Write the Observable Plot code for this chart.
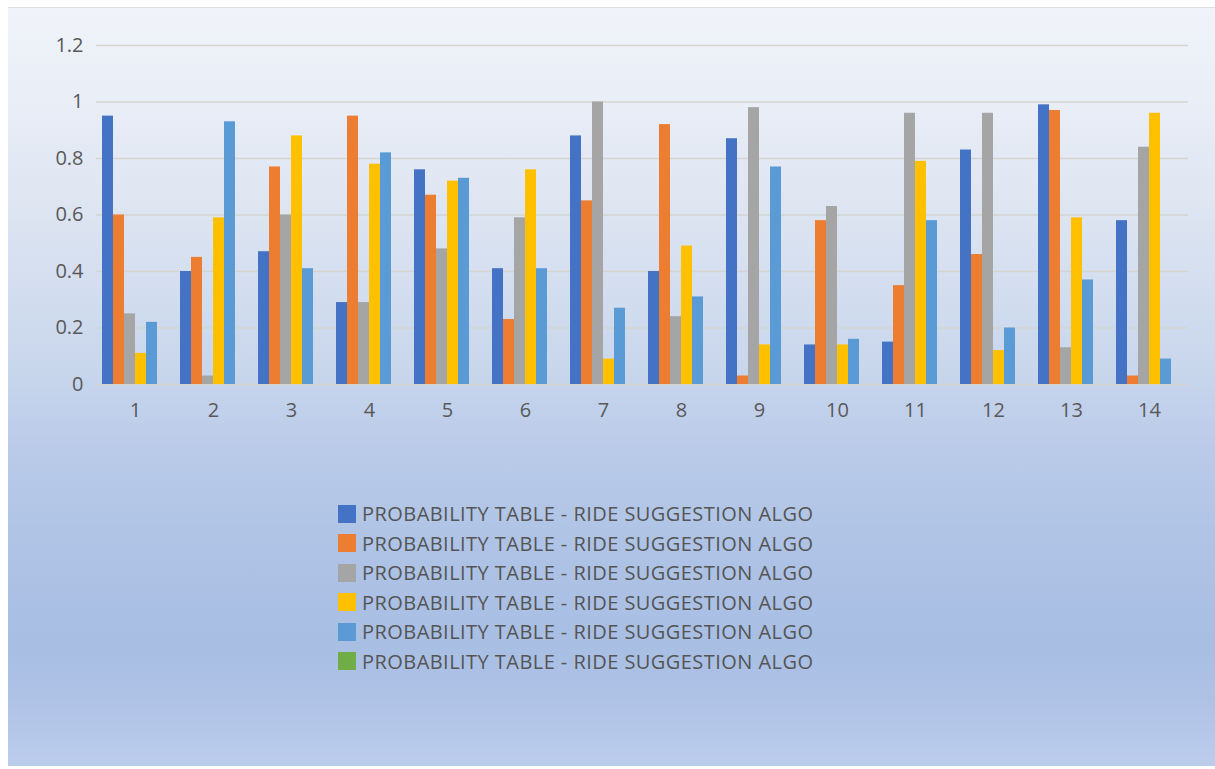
<!DOCTYPE html>
<html>
<head>
<meta charset="utf-8">
<script src="https://cdn.jsdelivr.net/npm/d3@7"></script>
<script src="https://cdn.jsdelivr.net/npm/@observablehq/plot@0.6"></script>
<style>
  html, body { margin: 0; padding: 0; background: #ffffff; }
  body { width: 1215px; height: 769px; position: relative; overflow: hidden; }
  #panel {
    position: absolute; left: 8px; top: 7px; width: 1207px; height: 759px;
    border-top: 1px solid #dedede; box-sizing: border-box;
    background: linear-gradient(to bottom,
      #f0f3f9 0%, #e9eef7 12%, #dfe6f2 25%, #c7d5ec 49%,
      #bacbe9 58%, #aec3e5 71%, #a8bee3 84%, #aec2e6 91%, #bccdec 100%);
  }
  #chart { position: absolute; left: 0; top: 0; }
  #legend {
    position: absolute; left: 338px; top: 499px;
    font-family: "Open Sans", "Liberation Sans", sans-serif; font-size: 20px;
    letter-spacing: 0.45px; color: #555555;
  }
  .row { display: flex; align-items: center; height: 29.5px; }
  .sw { width: 18px; height: 18px; margin-right: 6px; }
</style>
</head>
<body>
<div id="panel"></div>
<div id="chart"></div>
<div id="legend"></div>
<script>
// Categories along the x axis
const groups = ["1", "2", "3", "4", "5", "6", "7", "8", "9", "10", "11", "12", "13", "14"];

// Series keys, legend labels and colours
const seriesKeys = ["s1", "s2", "s3", "s4", "s5", "s6"];
const seriesLabels = [
  "PROBABILITY TABLE - RIDE SUGGESTION ALGO",
  "PROBABILITY TABLE - RIDE SUGGESTION ALGO",
  "PROBABILITY TABLE - RIDE SUGGESTION ALGO",
  "PROBABILITY TABLE - RIDE SUGGESTION ALGO",
  "PROBABILITY TABLE - RIDE SUGGESTION ALGO",
  "PROBABILITY TABLE - RIDE SUGGESTION ALGO"
];
const seriesColors = ["#4472c4", "#ed7d31", "#a5a5a5", "#ffc000", "#5b9bd5", "#70ad47"];

// Probability values per series (one per category)
const series1 = [0.95, 0.40, 0.47, 0.29, 0.76, 0.41, 0.88, 0.40, 0.87, 0.14, 0.15, 0.83, 0.99, 0.58];
const series2 = [0.60, 0.45, 0.77, 0.95, 0.67, 0.23, 0.65, 0.92, 0.03, 0.58, 0.35, 0.46, 0.97, 0.03];
const series3 = [0.25, 0.03, 0.60, 0.29, 0.48, 0.59, 1.00, 0.24, 0.98, 0.63, 0.96, 0.96, 0.13, 0.84];
const series4 = [0.11, 0.59, 0.88, 0.78, 0.72, 0.76, 0.09, 0.49, 0.14, 0.14, 0.79, 0.12, 0.59, 0.96];
const series5 = [0.22, 0.93, 0.41, 0.82, 0.73, 0.41, 0.27, 0.31, 0.77, 0.16, 0.58, 0.20, 0.37, 0.09];
const series6 = [null, null, null, null, null, null, null, null, null, null, null, null, null, null];

// Y axis ticks
const yTicks = [0, 0.2, 0.4, 0.6, 0.8, 1, 1.2];

const seriesValues = [series1, series2, series3, series4, series5, series6];
const table = [];
seriesValues.forEach((vals, si) => {
  vals.forEach((v, gi) => {
    if (v != null) table.push({group: groups[gi], series: seriesKeys[si], value: v});
  });
});

const font = "'Open Sans', 'Liberation Sans', sans-serif";

const chart = Plot.plot({
  width: 1215,
  height: 440,
  marginTop: 45,
  marginBottom: 56,
  marginLeft: 96,
  marginRight: 27,
  style: {background: "transparent", fontFamily: font, fontSize: "20px", color: "#595959"},
  fx: {domain: groups, padding: 0, label: null, tickSize: 0, tickPadding: 18},
  x: {domain: seriesKeys, paddingInner: 0, paddingOuter: 0.48, axis: null},
  y: {domain: [0, 1.2], ticks: yTicks, tickFormat: d => String(+d.toFixed(1)), label: null, tickSize: 0, tickPadding: 13},
  color: {domain: seriesKeys, range: seriesColors},
  marks: [
    Plot.ruleY(yTicks, {stroke: "#d5d4cf", strokeWidth: 1.5}),
    Plot.barY(table, {fx: "group", x: "series", y: "value", fill: "series"})
  ]
});
document.getElementById("chart").appendChild(chart);

// Legend rows below the chart
const legend = document.getElementById("legend");
seriesKeys.forEach((k, i) => {
  const row = document.createElement("div");
  row.className = "row";
  const sw = document.createElement("div");
  sw.className = "sw";
  sw.style.background = seriesColors[i];
  const tx = document.createElement("span");
  tx.textContent = seriesLabels[i];
  row.appendChild(sw);
  row.appendChild(tx);
  legend.appendChild(row);
});
</script>
</body>
</html>
